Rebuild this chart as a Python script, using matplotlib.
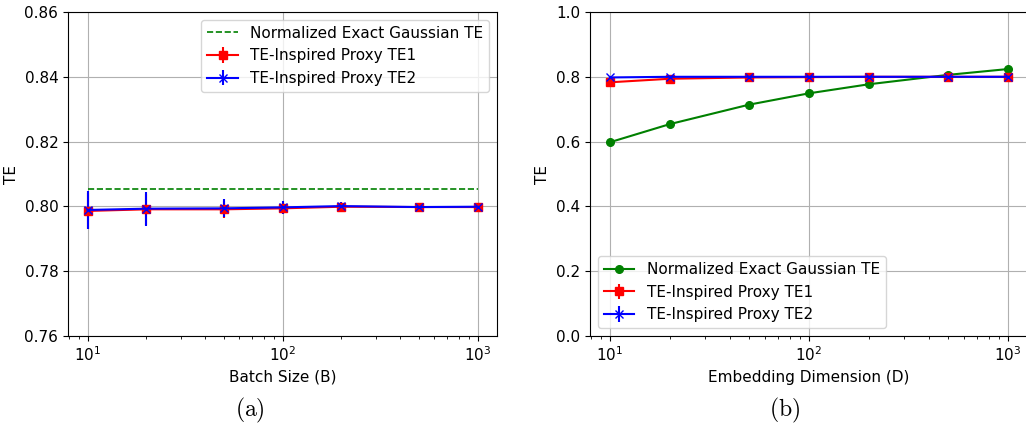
import matplotlib
matplotlib.use("Agg")
import matplotlib.pyplot as plt

# datos
batch_sizes = [10, 20, 50, 100, 200, 500, 1000]
exact_te_batch = [0.8055] * 7
te1_batch = [0.7986, 0.7991, 0.7991, 0.7994, 0.7999, 0.7998, 0.7998]
te1_batch_err = [0.0055, 0.0048, 0.0026, 0.0018, 0.0012, 0.0006, 0.0005]
te2_batch = [0.7989, 0.7993, 0.7994, 0.7997, 0.8001, 0.7998, 0.7999]
te2_batch_err = [0.0058, 0.0052, 0.0028, 0.0020, 0.0014, 0.0006, 0.0005]

embed_dims = [10, 20, 50, 100, 200, 500, 1000]
exact_te_dim = [0.598, 0.654, 0.714, 0.749, 0.777, 0.806, 0.824]
te1_dim = [0.783, 0.794, 0.798, 0.799, 0.800, 0.800, 0.800]
te1_dim_err = [0.002, 0.001, 0.001, 0.001, 0.0005, 0.0005, 0.0005]
te2_dim = [0.798, 0.800, 0.800, 0.800, 0.800, 0.800, 0.800]
te2_dim_err = [0.002, 0.001, 0.001, 0.001, 0.0005, 0.0005, 0.0005]

plt.rcParams['font.size'] = 11
plt.rcParams['mathtext.fontset'] = 'cm'

W, H = 1026, 425
fig = plt.figure(figsize=(W / 100, H / 100), dpi=100)
ax1 = fig.add_axes([68 / W, (H - 336) / H, 429 / W, 324 / H])
ax2 = fig.add_axes([590 / W, (H - 336) / H, 438 / W, 324 / H])

# (a) tamano de lote
ax1.plot(batch_sizes, exact_te_batch, linestyle='--', color='green', linewidth=1.2,
         label='Normalized Exact Gaussian TE')
ax1.errorbar(batch_sizes, te1_batch, yerr=te1_batch_err, marker='s', color='red',
             markersize=5.5, linewidth=1.5, label='TE-Inspired Proxy TE1')
ax1.errorbar(batch_sizes, te2_batch, yerr=te2_batch_err, marker='x', color='blue',
             markersize=5.5, linewidth=1.5, label='TE-Inspired Proxy TE2')
ax1.set_xscale('log')
ax1.set_ylim(0.76, 0.86)
ax1.set_yticks([0.76, 0.78, 0.80, 0.82, 0.84, 0.86])
ax1.set_xlabel('Batch Size (B)')
ax1.set_ylabel('TE')
ax1.grid(True, color='#b0b0b0', linewidth=0.8)
ax1.legend(loc='upper right')

# (b) dimension de embedding
ax2.plot(embed_dims, exact_te_dim, marker='o', color='green', markersize=5.5,
         linewidth=1.5, label='Normalized Exact Gaussian TE')
ax2.errorbar(embed_dims, te1_dim, yerr=te1_dim_err, marker='s', color='red',
             markersize=5.5, linewidth=1.5, label='TE-Inspired Proxy TE1')
ax2.errorbar(embed_dims, te2_dim, yerr=te2_dim_err, marker='x', color='blue',
             markersize=5.5, linewidth=1.5, label='TE-Inspired Proxy TE2')
ax2.set_xscale('log')
ax2.set_ylim(0.0, 1.0)
ax2.set_yticks([0.0, 0.2, 0.4, 0.6, 0.8, 1.0])
ax2.set_xlabel('Embedding Dimension (D)')
ax2.set_ylabel('TE')
ax2.grid(True, color='#b0b0b0', linewidth=0.8)
ax2.legend(loc='lower left')

fig.text(250 / W, 1 - 410 / H, r'$\mathrm{(a)}$', fontsize=17, ha='center', va='center')
fig.text(785 / W, 1 - 410 / H, r'$\mathrm{(b)}$', fontsize=17, ha='center', va='center')

fig.savefig('out.png', dpi=100)
plt.close(fig)
